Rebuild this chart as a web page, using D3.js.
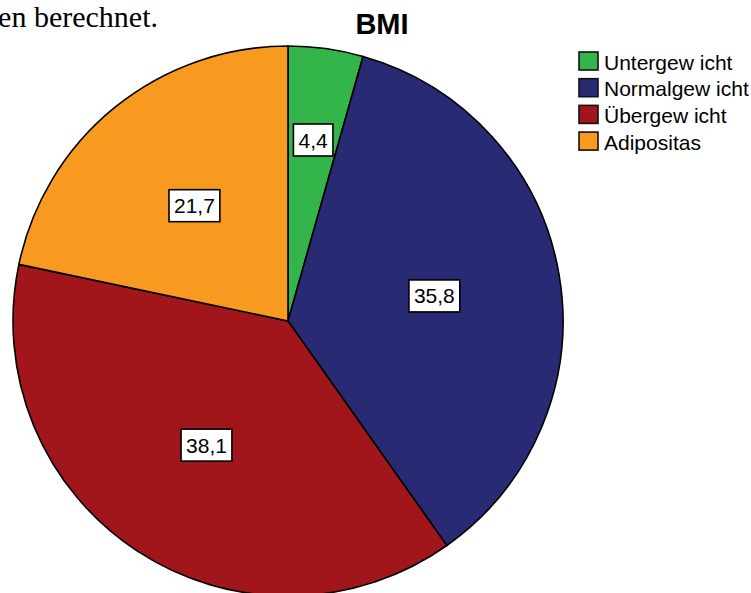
<!DOCTYPE html>
<html>
<head>
<meta charset="utf-8">
<script src="https://cdn.jsdelivr.net/npm/d3@7"></script>
<style>
  html, body { margin: 0; padding: 0; background: #fff; }
  svg { display: block; }
</style>
</head>
<body>
<svg id="chart" width="751" height="593"></svg>
<script>
// BMI-Verteilung in Prozent
const categories = ["Untergew icht", "Normalgew icht", "Übergew icht", "Adipositas"];
const values = [4.4, 35.8, 38.1, 21.7];
const valueLabels = ["4,4", "35,8", "38,1", "21,7"];
const colors = ["#33b54a", "#282a73", "#a1161b", "#f79a1f"];

const svg = d3.select("#chart");
const sans = "'Liberation Sans', Arial, sans-serif";

// Fließtext oberhalb der Grafik (links abgeschnitten)
svg.append("text")
  .attr("x", 158).attr("y", 27)
  .attr("text-anchor", "end")
  .attr("font-family", "'Liberation Serif', 'Times New Roman', serif")
  .attr("font-size", 30)
  .attr("fill", "#000")
  .text("en berechnet.");

// Titel
svg.append("text")
  .attr("x", 382).attr("y", 34)
  .attr("text-anchor", "middle")
  .attr("font-family", sans)
  .attr("font-weight", "bold")
  .attr("font-size", 29)
  .attr("fill", "#000")
  .text("BMI");

const cx = 288, cy = 321, r = 275;

const color = d3.scaleOrdinal().domain(categories).range(colors);
const pie = d3.pie().sort(null).value(d => d.value);
const data = categories.map((c, i) => ({ name: c, value: values[i], label: valueLabels[i] }));
const arcs = pie(data);

const arc = d3.arc().innerRadius(0).outerRadius(r);

const g = svg.append("g").attr("transform", `translate(${cx},${cy})`);

g.selectAll("path.slice")
  .data(arcs)
  .join("path")
  .attr("class", "slice")
  .attr("d", arc)
  .attr("fill", d => color(d.data.name))
  .attr("stroke", "#000")
  .attr("stroke-width", 1.6)
  .attr("stroke-linejoin", "round");

// Wertelabels: kleine Segmente am Flächenschwerpunkt, große weiter innen
function labelRadius(d) {
  const half = (d.endAngle - d.startAngle) / 2;
  const centroid = 2 * r * Math.sin(half) / (3 * half);
  return d.data.value < 10 ? centroid : r * 0.54;
}

const labels = g.selectAll("g.lbl")
  .data(arcs)
  .join("g")
  .attr("class", "lbl")
  .attr("transform", d => {
    const a = (d.startAngle + d.endAngle) / 2;
    const rr = labelRadius(d);
    return `translate(${rr * Math.sin(a)},${-rr * Math.cos(a)})`;
  });

labels.each(function(d) {
  const sel = d3.select(this);
  const t = sel.append("text")
    .attr("text-anchor", "middle")
    .attr("dy", "0.36em")
    .attr("font-family", sans)
    .attr("font-size", 21)
    .attr("fill", "#000")
    .text(d.data.label);
  const bb = t.node().getBBox();
  const padX = 5, h = 32;
  sel.insert("rect", "text")
    .attr("x", -bb.width / 2 - padX)
    .attr("y", -h / 2)
    .attr("width", bb.width + 2 * padX)
    .attr("height", h)
    .attr("fill", "#fff")
    .attr("stroke", "#000")
    .attr("stroke-width", 1.6);
});

// Legende
const legend = svg.append("g").attr("transform", "translate(579,52)");
const rowH = 26.7;
const items = legend.selectAll("g.item")
  .data(categories)
  .join("g")
  .attr("class", "item")
  .attr("transform", (d, i) => `translate(0,${i * rowH})`);

items.append("rect")
  .attr("x", 0).attr("y", 0)
  .attr("width", 19).attr("height", 18)
  .attr("fill", d => color(d))
  .attr("stroke", "#111")
  .attr("stroke-width", 1.6);

items.append("text")
  .attr("x", 25).attr("y", 10)
  .attr("dy", "0.36em")
  .attr("font-family", sans)
  .attr("font-size", 21)
  .attr("fill", "#000")
  .text(d => d);
</script>
</body>
</html>
